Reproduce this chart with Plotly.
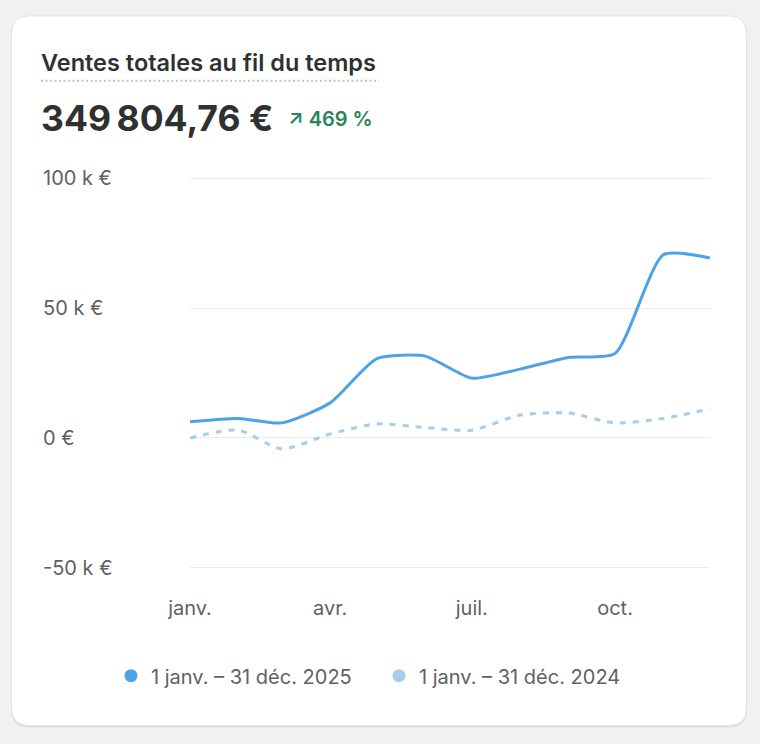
import plotly.graph_objects as go

# ---------------- data ----------------
months = ["2025-01-01", "2025-02-01", "2025-03-01", "2025-04-01", "2025-05-01", "2025-06-01",
          "2025-07-01", "2025-08-01", "2025-09-01", "2025-10-01", "2025-11-01", "2025-12-01"]
sales_2025 = [6200, 7500, 5800, 13500, 30500, 31500, 23000, 26500, 31000, 32500, 70500, 69300]
sales_2024 = [0, 3000, -4200, 1500, 5400, 4000, 3000, 8800, 9600, 5800, 7500, 11200]
series_names = ["1 janv. – 31 déc. 2025", "1 janv. – 31 déc. 2024"]
x_tick_vals = ["2025-01-01", "2025-04-01", "2025-07-01", "2025-10-01"]
x_tick_text = ["janv.", "avr.", "juil.", "oct."]
y_tick_vals = [100000, 50000, 0, -50000]
y_tick_text = ["100 k €", "50 k €", "0 €", "-50 k €"]
title_text = "Ventes totales au fil du temps"
total_text = "349\u202f804,76 €"
change_text = "↗ 469 %"

# ---------------- styles ----------------
W, H = 760, 744
PAD_K = 2000                      # value padding beyond the outer grid lines
PX_PER_UNIT = 130 / 50000         # 50 k € = 130 px
L, R = 190, 710
T = 178 - PAD_K * PX_PER_UNIT
B = 568 + PAD_K * PX_PER_UNIT
C_2025 = "#4da3e6"
C_2024 = "#a6cdec"
TXT = "#303030"
MUTED = "#616161"
GREEN = "#29845a"
FONT = "Inter"
TICK_SIZE = 20


def px(x):
    return (x - L) / (R - L)


def py(y):
    return (B - y) / (B - T)


def rounded_path(x0, y0, x1, y1, r):
    pts = [
        ("M", [(x0 + r, y0)]),
        ("L", [(x1 - r, y0)]),
        ("Q", [(x1, y0), (x1, y0 + r)]),
        ("L", [(x1, y1 - r)]),
        ("Q", [(x1, y1), (x1 - r, y1)]),
        ("L", [(x0 + r, y1)]),
        ("Q", [(x0, y1), (x0, y1 - r)]),
        ("L", [(x0, y0 + r)]),
        ("Q", [(x0, y0), (x0 + r, y0)]),
    ]
    s = ""
    for cmd, ps in pts:
        s += cmd + " " + " ".join(f"{px(a):.5f},{py(b):.5f}" for a, b in ps) + " "
    return s + "Z"


fig = go.Figure()

fig.add_trace(go.Scatter(
    x=months, y=sales_2024, mode="lines", showlegend=False,
    line=dict(color=C_2024, width=3, dash="6px,7px", shape="spline", smoothing=0.7),
    hoverinfo="skip"))
fig.add_trace(go.Scatter(
    x=months, y=sales_2025, mode="lines", showlegend=False,
    line=dict(color=C_2025, width=3, shape="spline", smoothing=0.6),
    hoverinfo="skip"))

# legend entries (circle markers)
for name, col in zip(series_names, [C_2025, C_2024]):
    fig.add_trace(go.Scatter(
        x=[None], y=[None], mode="markers", name=name,
        marker=dict(color=col, size=13, symbol="circle")))

shapes = [
    dict(type="path", xref="paper", yref="paper", layer="below",
         path=rounded_path(11, 16.5, 747, 727.5, 18),
         fillcolor="#dcdcdc", line=dict(width=0)),
    dict(type="path", xref="paper", yref="paper", layer="below",
         path=rounded_path(11.5, 15.5, 746.5, 726, 18),
         fillcolor="#ffffff", line=dict(color="#e4e4e4", width=1)),
    dict(type="line", xref="paper", yref="paper",
         x0=px(41), x1=px(379), y0=py(80.5), y1=py(80.5),
         line=dict(color="#c4c4c4", width=2, dash="2px,2.5px")),
]

annotations = [
    dict(text=title_text, xref="paper", yref="paper", x=px(39), y=py(62),
         xanchor="left", yanchor="middle", showarrow=False,
         font=dict(family=FONT, size=23.5, color=TXT, weight=600)),
    dict(text=total_text, xref="paper", yref="paper", x=px(39), y=py(118),
         xanchor="left", yanchor="middle", showarrow=False,
         font=dict(family=FONT, size=35.5, color=TXT, weight=700)),
    dict(text=change_text, xref="paper", yref="paper", x=px(286), y=py(119),
         xanchor="left", yanchor="middle", showarrow=False,
         font=dict(family=FONT, size=20, color=GREEN, weight=600)),
]
for v, t in zip(y_tick_vals, y_tick_text):
    annotations.append(dict(text=t, xref="paper", yref="y", x=px(41), y=v,
                            xanchor="left", yanchor="middle", showarrow=False,
                            font=dict(family=FONT, size=TICK_SIZE, color=MUTED)))

fig.update_layout(
    width=W, height=H,
    margin=dict(l=L, r=W - R, t=T, b=H - B, pad=0),
    paper_bgcolor="#f1f1f1",
    plot_bgcolor="rgba(0,0,0,0)",
    font=dict(family=FONT, color=MUTED, size=TICK_SIZE),
    shapes=shapes,
    annotations=annotations,
    showlegend=True,
    legend=dict(orientation="h", x=px(111), y=py(676), xanchor="left", yanchor="middle",
                font=dict(family=FONT, size=TICK_SIZE, color=MUTED), itemsizing="trace",
                entrywidth=223, entrywidthmode="pixels",
                bgcolor="rgba(0,0,0,0)", tracegroupgap=0),
    xaxis=dict(type="date", range=["2025-01-01", "2025-12-01"],
               tickvals=x_tick_vals, ticktext=x_tick_text,
               showgrid=False, zeroline=False, showline=False, ticks="",
               ticklabelstandoff=int(round(26 - PAD_K * PX_PER_UNIT)),
               tickfont=dict(family=FONT, size=TICK_SIZE, color=MUTED)),
    yaxis=dict(range=[y_tick_vals[-1] - PAD_K, y_tick_vals[0] + PAD_K],
               tickvals=y_tick_vals, showticklabels=False,
               showgrid=True, gridcolor="#ebebeb", gridwidth=1,
               zeroline=True, zerolinecolor="#ebebeb", zerolinewidth=1,
               showline=False, ticks=""),
)

fig.write_html("out.html", config={"displayModeBar": False})
